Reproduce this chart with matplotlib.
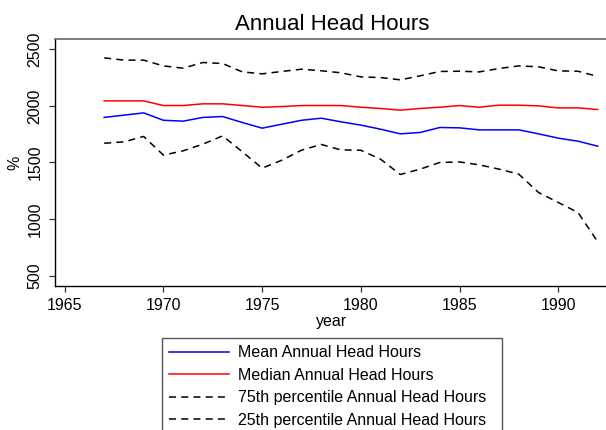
import matplotlib
matplotlib.use("Agg")
import matplotlib.pyplot as plt

years = list(range(1967, 1993))
mean_hours = [1898, 1918, 1938, 1873, 1865, 1898, 1906, 1853, 1803, 1838, 1873, 1891,
              1859, 1830, 1794, 1753, 1765, 1809, 1806, 1788, 1788, 1788, 1753, 1715, 1688, 1644]
median_hours = [2044, 2044, 2044, 2003, 2003, 2018, 2018, 2003, 1988, 1994, 2003, 2003,
                2003, 1988, 1977, 1962, 1977, 1988, 2003, 1988, 2006, 2006, 2000, 1982, 1982, 1968]
p75_hours = [2424, 2404, 2404, 2353, 2333, 2383, 2374, 2300, 2283, 2304, 2324, 2310,
             2292, 2256, 2250, 2230, 2265, 2304, 2306, 2300, 2330, 2353, 2345, 2309, 2306, 2260]
p25_hours = [1670, 1682, 1730, 1565, 1603, 1662, 1735, 1594, 1450, 1520, 1609, 1659,
             1611, 1608, 1529, 1394, 1441, 1500, 1505, 1479, 1441, 1397, 1235, 1147, 1058, 799]

labels = ["Mean Annual Head Hours", "Median Annual Head Hours",
          "75th percentile Annual Head Hours", "25th percentile Annual Head Hours"]
xticks = [1965, 1970, 1975, 1980, 1985, 1990]
yticks = [500, 1000, 1500, 2000, 2500]

plt.rcParams['font.family'] = ['Liberation Sans', 'DejaVu Sans']

W, H = 606, 430
fig = plt.figure(figsize=(W / 100, H / 100), dpi=100)
fig.patch.set_facecolor('white')
ax = fig.add_axes([55 / W, (H - 285.7) / H, (609 - 55) / W, (285.7 - 39.3) / H])

dash = (0, (4.6, 3.4))
l1, = ax.plot(years, mean_hours, color='#0000ff', lw=1.1)
l2, = ax.plot(years, median_hours, color='#ff0000', lw=1.1)
l3, = ax.plot(years, p75_hours, color='black', lw=1.1, linestyle=dash)
l4, = ax.plot(years, p25_hours, color='black', lw=1.1, linestyle=dash)

ax.set_xlim(1964.51, 1992.57)
ax.set_ylim(411.7, 2588)
ax.set_xticks(xticks)
ax.set_yticks(yticks)
ax.set_yticklabels([str(v) for v in yticks], rotation=90, va='center')
ax.tick_params(axis='both', labelsize=11.5, length=4.5, width=0.9, color='#333333')
ax.tick_params(axis='x', pad=4.0)
ax.tick_params(axis='y', pad=4.5)

for s in ['left', 'bottom']:
    ax.spines[s].set_color('black')
    ax.spines[s].set_linewidth(1.0)
ax.spines['top'].set_color('#666666')
ax.spines['top'].set_linewidth(1.2)
ax.spines['right'].set_visible(False)

ax.set_title("Annual Head Hours", fontsize=16, pad=7)
ax.set_xlabel("year", fontsize=11.5, labelpad=1)
ax.set_ylabel("%", fontsize=11.5, labelpad=4)

leg = fig.legend([l1, l2, l3, l4], labels, loc='upper left',
                 bbox_to_anchor=(162 / W, 0, (502 - 162) / W, 1 - 338 / H),
                 mode='expand', borderaxespad=0,
                 fontsize=11.5, handlelength=3.75, handletextpad=0.56,
                 borderpad=0.45, labelspacing=0.47, fancybox=False,
                 frameon=True, framealpha=1, edgecolor='#555555', facecolor='white')
leg.get_frame().set_linewidth(1.0)

fig.savefig("out.png", dpi=100)
